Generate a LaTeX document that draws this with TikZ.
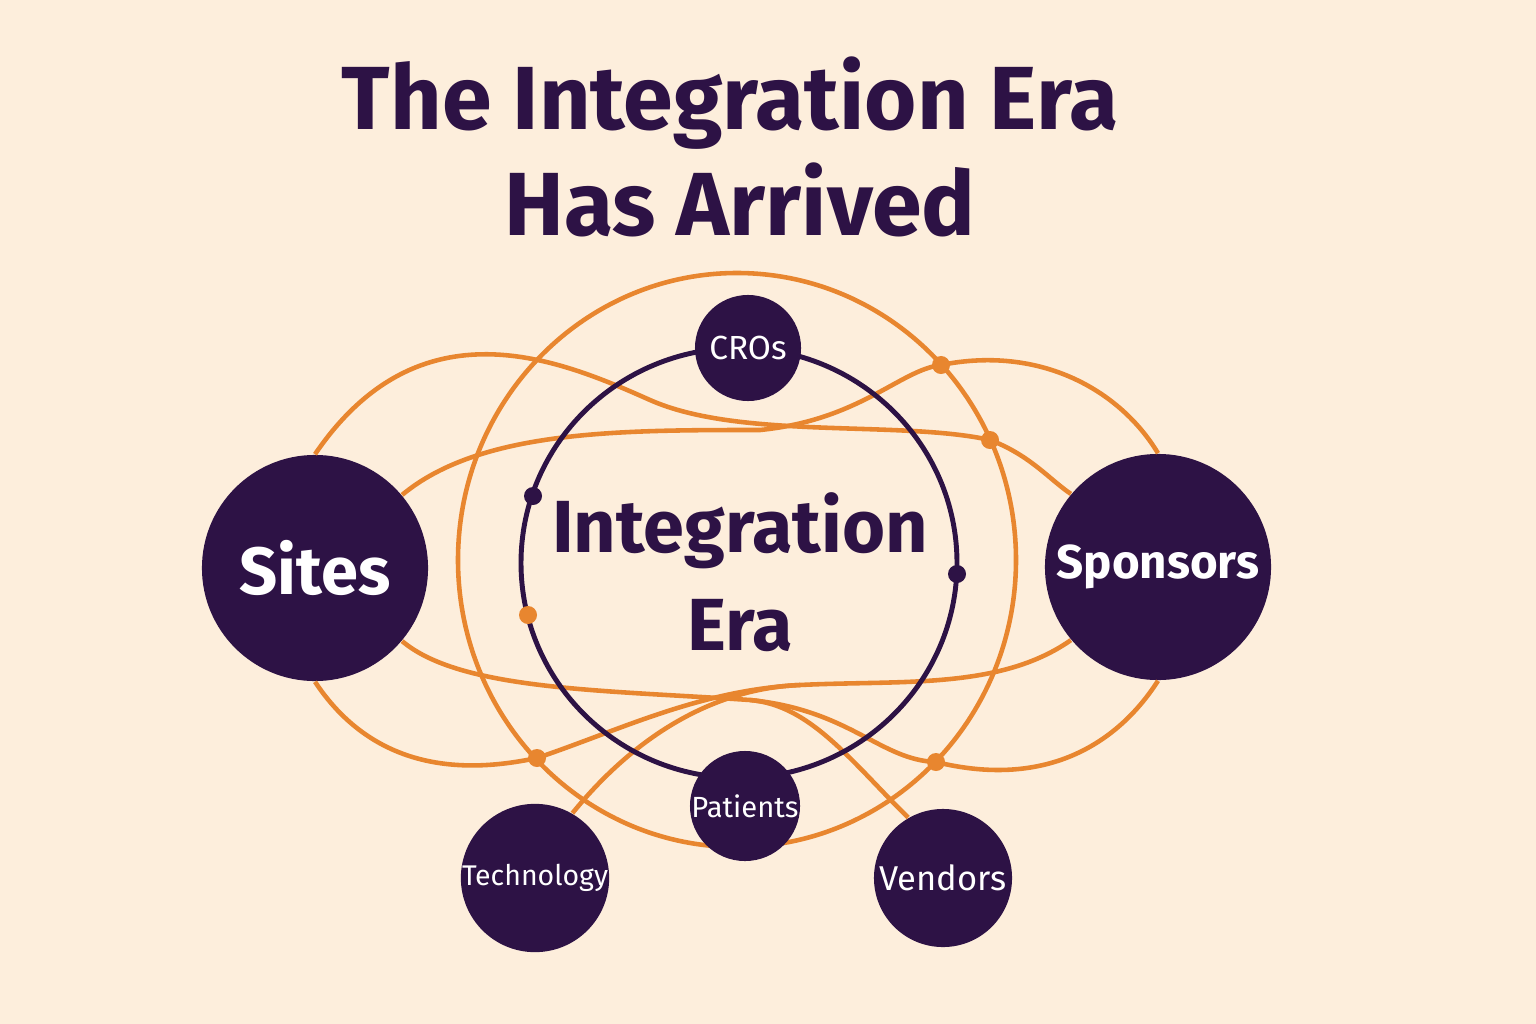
\documentclass[tikz,border=0pt]{standalone}
\usepackage{fontspec}
\setmainfont{Fira Sans}
\definecolor{bg}{HTML}{FDEEDC}
\definecolor{plum}{HTML}{2D1245}
\definecolor{org}{HTML}{E8862F}
\begin{document}
\begin{tikzpicture}[x=0.01cm,y=-0.01cm,
  orng/.style={draw=org,line width=1.3pt},
  hub/.style={circle,fill=plum,text=white,inner sep=0pt,font=\bfseries},
  odot/.style={circle,fill=org,inner sep=0pt,minimum size=0.18cm},
  pdot/.style={circle,fill=plum,inner sep=0pt,minimum size=0.18cm}]
\fill[bg] (0,0) rectangle (1536,1024);
\useasboundingbox (0,0) rectangle (1536,1024);
\node[text=plum,font=\fontsize{25.5}{30}\selectfont\bfseries] (t1) at (730,103) {The Integration Era};
\node[text=plum,font=\fontsize{25.5}{30}\selectfont\bfseries] (t2) at (740,200) {Has Arrived};
\node[hub,minimum size=2.26cm,font=\fontsize{19}{24}\selectfont\bfseries] (sites) at (315,568) {Sites};
\node[hub,minimum size=2.26cm,font=\fontsize{13.5}{18}\selectfont\bfseries] (spons) at (1158,567) {Sponsors};
% orange curves
\draw[orng] (737,560) ellipse [x radius=279, y radius=287];
\draw[orng] (sites.90) .. controls (420,300) and (560,360) .. (650,400) .. controls (740,440) and (900,420) .. (990,440) .. controls (1030,455) and (1050,480) .. (spons.140);
\draw[orng] (sites.40) .. controls (480,430) and (620,430) .. (760,430) .. controls (860,420) and (900,370) .. (941,365) .. controls (1040,345) and (1120,390) .. (spons.90);
\draw[orng] (sites.270) .. controls (380,780) and (480,770) .. (537,758) .. controls (620,730) and (700,690) .. (800,685) .. controls (900,680) and (1000,690) .. (spons.220);
\draw[orng] (sites.320) .. controls (460,690) and (600,690) .. (750,700) .. controls (850,710) and (880,760) .. (936,762) .. controls (1050,790) and (1120,740) .. (spons.270);
\node[hub,minimum size=1.46cm,font=\fontsize{8.1}{10}\selectfont] (tech) at (535,878) {Technology};
\node[hub,minimum size=1.38cm,font=\fontsize{9.8}{12}\selectfont] (vend) at (943,878) {Vendors};
\draw[orng] (tech.60) .. controls (640,730) and (720,688) .. (800,685);
\draw[orng] (vend.120) .. controls (850,760) and (810,705) .. (750,700);
% central ellipse
\draw[plum,line width=1.4pt] (739,563) ellipse [x radius=218, y radius=215];
\node[text=plum,font=\fontsize{21}{26}\selectfont\bfseries,align=center] (ctr) at (740,572) {Integration\\[2pt]Era};
\node[hub,minimum size=1.06cm,font=\fontsize{9.5}{12}\selectfont] (cros) at (748,348) {CROs};
\node[hub,minimum size=1.1cm,font=\fontsize{8.3}{10}\selectfont] (pat) at (745,806) {Patients};
% dots
\node[pdot] (d1) at (533,496) {};
\node[pdot] (d2) at (957,574) {};
\node[odot] (o1) at (528,615) {};
\node[odot] (o2) at (941,365) {};
\node[odot] (o3) at (990,440) {};
\node[odot] (o4) at (537,758) {};
\node[odot] (o5) at (936,762) {};
\end{tikzpicture}
\end{document}
